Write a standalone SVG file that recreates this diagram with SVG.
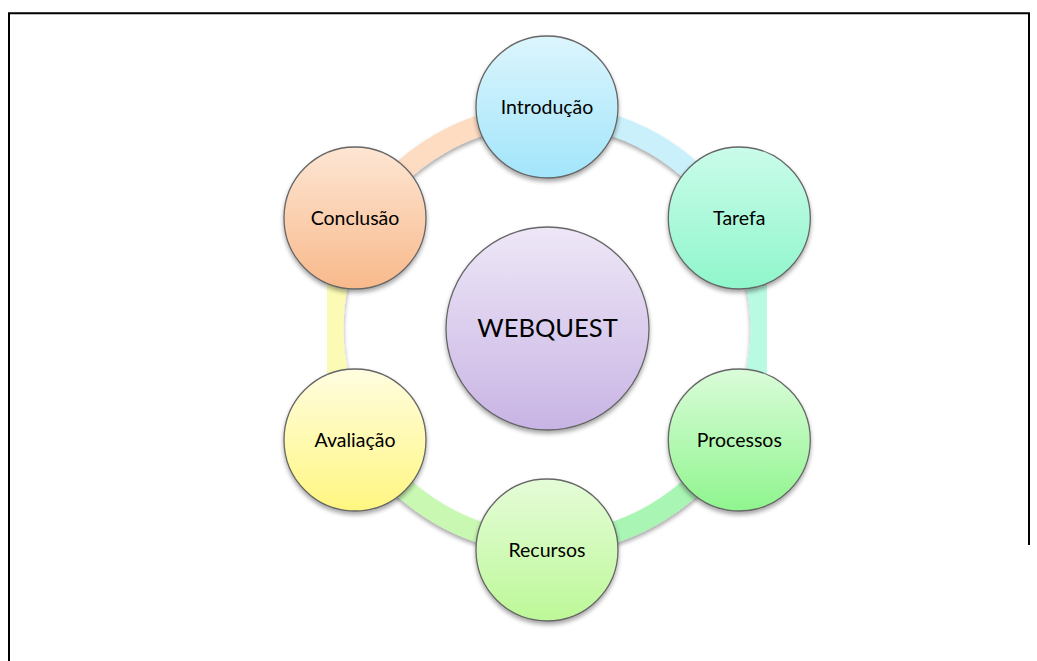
<svg xmlns="http://www.w3.org/2000/svg" width="1037" height="661" viewBox="0 0 1037 661">
  <style>
    .node { stroke: #666; stroke-width: 1.3; filter: url(#shadow); }
    .ring { fill: none; stroke-width: 21; filter: url(#shadow); }
    .label { font-family: Lato, "Open Sans", "Liberation Sans", sans-serif; font-size: 19.5px; fill: #000; text-anchor: middle; }
    .title { font-family: Lato, "Open Sans", "Liberation Sans", sans-serif; font-size: 25.5px; fill: #000; text-anchor: middle; }
    .frame { fill: none; stroke: #000; stroke-width: 2; }
  </style>
  <defs>
    <filter id="shadow" x="-20%" y="-20%" width="140%" height="140%">
      <feDropShadow dx="0" dy="3" stdDeviation="2.2" flood-color="#000" flood-opacity="0.35"/>
    </filter>
    <linearGradient id="gIntro" x1="0" y1="0" x2="0" y2="1">
      <stop offset="0" stop-color="#dcf5fd"/>
      <stop offset="1" stop-color="#a2e5fb"/>
    </linearGradient>
    <linearGradient id="gTarefa" x1="0" y1="0" x2="0" y2="1">
      <stop offset="0" stop-color="#cafcea"/>
      <stop offset="1" stop-color="#8ff6cb"/>
    </linearGradient>
    <linearGradient id="gProc" x1="0" y1="0" x2="0" y2="1">
      <stop offset="0" stop-color="#dafcd9"/>
      <stop offset="1" stop-color="#8ff58e"/>
    </linearGradient>
    <linearGradient id="gRec" x1="0" y1="0" x2="0" y2="1">
      <stop offset="0" stop-color="#e5fcd8"/>
      <stop offset="1" stop-color="#bdf898"/>
    </linearGradient>
    <linearGradient id="gAval" x1="0" y1="0" x2="0" y2="1">
      <stop offset="0" stop-color="#fffde0"/>
      <stop offset="1" stop-color="#fff680"/>
    </linearGradient>
    <linearGradient id="gConc" x1="0" y1="0" x2="0" y2="1">
      <stop offset="0" stop-color="#fde6d4"/>
      <stop offset="1" stop-color="#f8b98b"/>
    </linearGradient>
    <linearGradient id="gWeb" x1="0" y1="0" x2="0" y2="1">
      <stop offset="0" stop-color="#eee7f7"/>
      <stop offset="1" stop-color="#c8b4e4"/>
    </linearGradient>
  </defs>

  <!-- page frame (open at the bottom) -->
  <path class="frame" d="M 9 661 V 13.3 H 1029 V 545"/>

  <!-- cycle ring segments, ring centre (547,329), r = 214 -->
  <g id="connectors">
    <path class="ring" stroke="#c9f0fb" d="M 547 115 A 214 214 0 0 1 732.3 222"/>
    <path class="ring" stroke="#b9fae3" d="M 732.3 222 A 214 214 0 0 1 732.3 436"/>
    <path class="ring" stroke="#a8f5b4" d="M 732.3 436 A 214 214 0 0 1 547 543"/>
    <path class="ring" stroke="#c8f8b2" d="M 547 543 A 214 214 0 0 1 361.7 436"/>
    <path class="ring" stroke="#fbfbb5" d="M 361.7 436 A 214 214 0 0 1 361.7 222"/>
    <path class="ring" stroke="#fddcc2" d="M 361.7 222 A 214 214 0 0 1 547 115"/>
  </g>

  <g id="webquest">
    <circle class="node" cx="547.5" cy="328.5" r="101.5" fill="url(#gWeb)"/>
    <text class="title" x="547.5" y="337">WEBQUEST</text>
  </g>

  <g id="introducao">
    <circle class="node" cx="547" cy="107" r="71" fill="url(#gIntro)"/>
    <text class="label" x="547" y="113.5">Introdução</text>
  </g>

  <g id="tarefa">
    <circle class="node" cx="739.3" cy="218" r="71" fill="url(#gTarefa)"/>
    <text class="label" x="739.3" y="224.5">Tarefa</text>
  </g>

  <g id="processos">
    <circle class="node" cx="739.3" cy="440" r="71" fill="url(#gProc)"/>
    <text class="label" x="739.3" y="446.5">Processos</text>
  </g>

  <g id="recursos">
    <circle class="node" cx="547" cy="550" r="71" fill="url(#gRec)"/>
    <text class="label" x="547" y="556.5">Recursos</text>
  </g>

  <g id="avaliacao">
    <circle class="node" cx="355" cy="440" r="71" fill="url(#gAval)"/>
    <text class="label" x="355" y="446.5">Avaliação</text>
  </g>

  <g id="conclusao">
    <circle class="node" cx="355" cy="218" r="71" fill="url(#gConc)"/>
    <text class="label" x="355" y="224.5">Conclusão</text>
  </g>
</svg>
